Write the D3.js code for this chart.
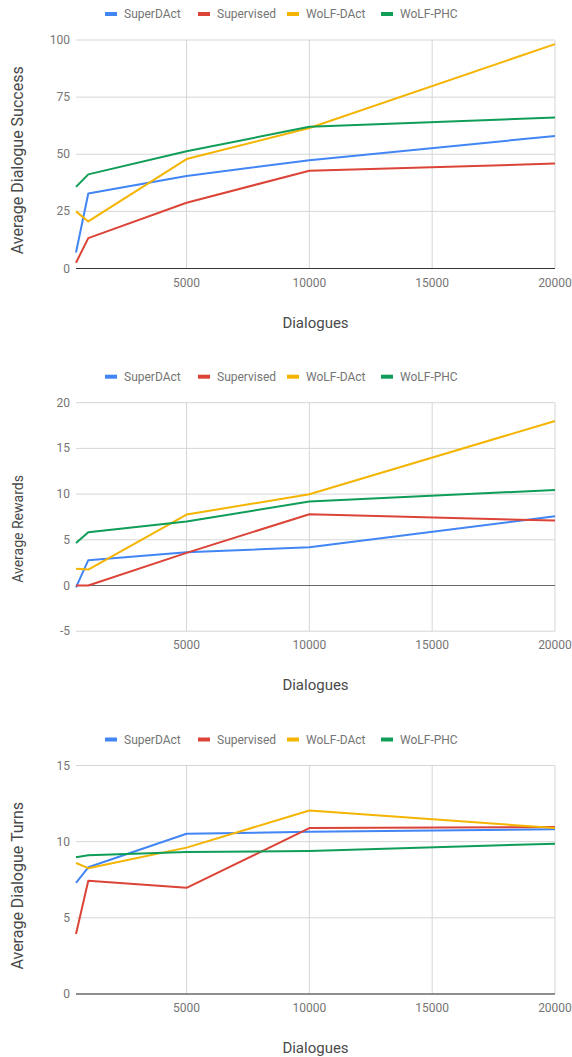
<!DOCTYPE html>
<html lang="en">
<head>
<meta charset="UTF-8">
<title>Dialogue charts</title>
<script src="https://d3js.org/d3.v7.min.js"></script>
<style>
  body { margin: 0; background: #fff; }
  text { font-family: Roboto, "Noto Sans", sans-serif; }
</style>
</head>
<body>
<svg width="572" height="1057"></svg>
<script>
    // shared data
    const dialogues = [500, 1000, 5000, 10000, 20000];
    const seriesNames = ["SuperDAct", "Supervised", "WoLF-DAct", "WoLF-PHC"];
    const seriesColors = ["#4285F4", "#DB4437", "#F4B400", "#0F9D58"];
    const xTicks = [5000, 10000, 15000, 20000];

    // chart 1: average dialogue success
    const successSuperDAct = [7, 32.8, 40.5, 47.4, 58];
    const successSupervised = [2.5, 13.3, 28.8, 42.8, 45.9];
    const successWolfDAct = [25, 20.6, 47.9, 61.5, 98.2];
    const successWolfPHC = [35.7, 41.2, 51.3, 62, 66.1];
    const successTicks = [0, 25, 50, 75, 100];

    // chart 2: average rewards
    const rewardsSuperDAct = [-0.2, 2.77, 3.64, 4.19, 7.58];
    const rewardsSupervised = [0, 0, 3.57, 7.8, 7.1];
    const rewardsWolfDAct = [1.82, 1.75, 7.76, 9.98, 18.0];
    const rewardsWolfPHC = [4.66, 5.83, 7.0, 9.2, 10.45];
    const rewardsTicks = [-5, 0, 5, 10, 15, 20];

    // chart 3: average dialogue turns
    const turnsSuperDAct = [7.3, 8.32, 10.52, 10.65, 10.81];
    const turnsSupervised = [3.94, 7.43, 6.97, 10.89, 10.96];
    const turnsWolfDAct = [8.6, 8.26, 9.61, 12.05, 10.89];
    const turnsWolfPHC = [8.98, 9.11, 9.32, 9.39, 9.87];
    const turnsTicks = [0, 5, 10, 15];

    const svg = d3.select("svg");

    const left = 76, right = 555, plotH = 228.5;

    const x = d3.scaleLinear()
        .domain([500, 20000])
        .range([left, right]);

    function drawChart(top, ticks, title, values, baseColor, titleShift, titleSize) {
        let g = svg.append("g");
        let y = d3.scaleLinear()
            .domain(d3.extent(ticks))
            .range([top + plotH, top]);

        // legend
        let legendX = [105, 198, 287, 381];
        seriesNames.forEach((name, i) => {
            g.append("rect")
                .attr("x", legendX[i]).attr("y", top - 28)
                .attr("width", 12).attr("height", 4)
                .attr("fill", seriesColors[i]);
            g.append("text")
                .attr("x", legendX[i] + 19).attr("y", top - 22)
                .attr("font-size", 12).attr("fill", "#757575")
                .text(name);
        });

        // horizontal grid
        g.selectAll(".hg").data(ticks).enter().append("line")
            .attr("x1", left).attr("x2", right)
            .attr("y1", d => y(d)).attr("y2", d => y(d))
            .attr("stroke", "#d6d6d6").attr("stroke-width", 1);

        // vertical grid
        g.selectAll(".vg").data(xTicks).enter().append("line")
            .attr("x1", d => x(d)).attr("x2", d => x(d))
            .attr("y1", top).attr("y2", top + plotH)
            .attr("stroke", "#d6d6d6").attr("stroke-width", 1);

        // zero line
        g.append("line")
            .attr("x1", left).attr("x2", right)
            .attr("y1", y(0)).attr("y2", y(0))
            .attr("stroke", baseColor).attr("stroke-width", 1.2);

        // y tick labels
        g.selectAll(".yl").data(ticks).enter().append("text")
            .attr("x", left - 6).attr("y", d => y(d) + 4)
            .attr("text-anchor", "end")
            .attr("font-size", 12).attr("fill", "#757575")
            .text(d => d);

        // x tick labels
        g.selectAll(".xl").data(xTicks).enter().append("text")
            .attr("x", d => x(d)).attr("y", top + plotH + 18)
            .attr("text-anchor", "middle")
            .attr("font-size", 12).attr("fill", "#757575")
            .text(d => d);

        // axis titles
        g.append("text")
            .attr("x", (left + right) / 2).attr("y", top + plotH + 59)
            .attr("text-anchor", "middle")
            .attr("font-size", 15).attr("fill", "#4a4a4a")
            .text("Dialogues");
        g.append("text")
            .attr("transform", `translate(23,${top + plotH / 2 + titleShift}) rotate(-90)`)
            .attr("text-anchor", "middle")
            .attr("font-size", titleSize).attr("fill", "#4a4a4a")
            .text(title);

        // lines
        let line = d3.line()
            .x((d, i) => x(dialogues[i]))
            .y(d => y(d));
        values.forEach((vals, i) => {
            g.append("path")
                .datum(vals)
                .attr("d", line)
                .attr("fill", "none")
                .attr("stroke", seriesColors[i])
                .attr("stroke-width", 2)
                .attr("stroke-linejoin", "round");
        });
    }

    drawChart(40, successTicks, "Average Dialogue Success",
        [successSuperDAct, successSupervised, successWolfDAct, successWolfPHC], "#333", 6, 16);
    drawChart(402.7, rewardsTicks, "Average Rewards",
        [rewardsSuperDAct, rewardsSupervised, rewardsWolfDAct, rewardsWolfPHC], "#666", 12, 14);
    drawChart(765.5, turnsTicks, "Average Dialogue Turns",
        [turnsSuperDAct, turnsSupervised, turnsWolfDAct, turnsWolfPHC], "#333", 6, 16);
</script>
</body>
</html>
